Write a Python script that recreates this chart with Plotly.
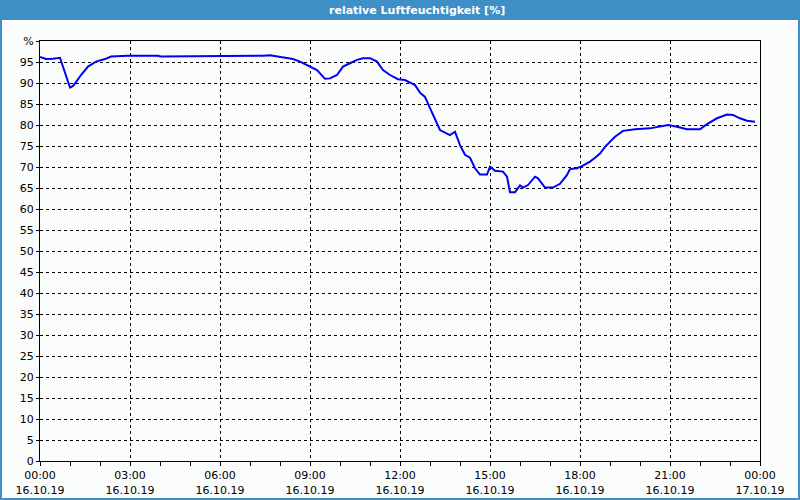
import plotly.graph_objects as go
import pandas as pd

# minutes since 16.10.19 00:00
minutes = [0, 12, 26, 40, 60, 66, 72, 82, 96, 112, 130, 142, 176, 236, 242, 336, 396, 420, 446, 460,
           490, 506, 520, 540, 554, 570, 580, 594, 606, 620, 634, 646, 660, 674, 686, 700, 716, 730,
           750, 760, 770, 780, 800, 810, 820, 830, 840, 850, 860, 870, 880, 894, 900, 910, 926, 934,
           940, 950, 960, 966, 976, 990, 996, 1010, 1026, 1040, 1054, 1060, 1074, 1084, 1100, 1110,
           1120, 1130, 1140, 1150, 1166, 1190, 1220, 1240, 1256, 1274, 1294, 1320, 1334, 1354, 1374,
           1386, 1400, 1414, 1430]
humidity = [96.2, 95.7, 95.8, 96.0, 88.9, 89.3, 90.2, 91.9, 93.9, 95.1, 95.7, 96.3, 96.5, 96.5, 96.3,
            96.4, 96.3, 96.4, 96.5, 96.6, 95.9, 95.7, 95.1, 94.0, 93.1, 91.0, 91.1, 91.9, 93.9, 94.7,
            95.5, 95.9, 95.9, 95.1, 93.1, 91.9, 90.9, 90.7, 89.5, 87.7, 86.7, 84.0, 78.8, 78.2, 77.6,
            78.4, 75.2, 72.9, 72.2, 69.7, 68.2, 68.2, 70.1, 69.1, 68.9, 67.7, 64.0, 64.0, 65.6, 65.1,
            65.7, 67.7, 67.3, 65.1, 65.1, 66.0, 68.1, 69.5, 69.7, 70.2, 71.3, 72.2, 73.2, 74.8, 76.0,
            77.2, 78.6, 79.0, 79.2, 79.6, 80.0, 79.6, 79.0, 79.0, 80.2, 81.6, 82.5, 82.4, 81.6, 81.0,
            80.8]

x_tick_hours = [0, 3, 6, 9, 12, 15, 18, 21, 24]
x_tick_text = ["00:00<br>16.10.19", "03:00<br>16.10.19", "06:00<br>16.10.19", "09:00<br>16.10.19",
               "12:00<br>16.10.19", "15:00<br>16.10.19", "18:00<br>16.10.19", "21:00<br>16.10.19",
               "00:00<br>17.10.19"]
y_tick_vals = list(range(0, 101, 5))
y_tick_text = [str(v) for v in range(0, 100, 5)] + ["%"]

title_text = "relative Luftfeuchtigkeit [%]"

start = pd.Timestamp("2019-10-16 00:00")
times = [start + pd.Timedelta(minutes=m) for m in minutes]
x_ticks = [start + pd.Timedelta(hours=h) for h in x_tick_hours]

W, H = 800, 500
L, R, T, B = 40, 40, 41, 39
pw, ph = W - L - R, H - T - B

def px(x):
    return (x - L) / pw

def py(y):
    return (H - B - y) / ph

blue = "#3d8fc6"
fnt = "DejaVu Sans"

fig = go.Figure()
fig.add_trace(go.Scatter(x=times, y=humidity, mode="lines",
                         line=dict(color="#0000f0", width=2), hoverinfo="skip"))

fig.update_layout(
    width=W, height=H,
    margin=dict(l=L, r=R, t=T, b=B),
    paper_bgcolor="#fbfdfc", plot_bgcolor="#fbfdfc",
    showlegend=False,
    font=dict(family=fnt, size=11, color="#000000"),
    xaxis=dict(
        range=[start, start + pd.Timedelta(hours=24)],
        tickvals=x_ticks, ticktext=x_tick_text,
        automargin=False,
        showgrid=True, gridcolor="#000000", gridwidth=1, griddash="3px,3px",
        showline=True, linecolor="#000000", linewidth=1, mirror=True,
        ticks="outside", ticklen=4, tickcolor="#000000",
        minor=dict(dtick=3600000, tick0=start, ticks="outside", ticklen=4,
                   tickcolor="#000000", showgrid=False),
        zeroline=False,
        tickfont=dict(family=fnt, size=11),
    ),
    yaxis=dict(
        range=[0, 100],
        tickvals=y_tick_vals, ticktext=y_tick_text,
        automargin=False,
        showgrid=True, gridcolor="#000000", gridwidth=1, griddash="3px,3px",
        showline=True, linecolor="#000000", linewidth=1, mirror=True,
        ticks="outside", ticklen=3, tickcolor="#000000",
        zeroline=False,
        tickfont=dict(family=fnt, size=11),
    ),
    shapes=[
        dict(type="rect", xref="paper", yref="paper",
             x0=px(0), x1=px(W), y0=py(20), y1=py(0),
             fillcolor=blue, line=dict(width=0), layer="below"),
        dict(type="rect", xref="paper", yref="paper",
             x0=px(1), x1=px(W - 1), y0=py(H - 1), y1=py(1),
             fillcolor="rgba(0,0,0,0)", line=dict(color=blue, width=2)),
    ],
    annotations=[
        dict(text="<b>" + title_text + "</b>", xref="paper", yref="paper",
             x=px(417), y=py(10), showarrow=False, xanchor="center", yanchor="middle",
             font=dict(family=fnt, size=11, color="#ffffff")),
    ],
)

fig.write_html("out.html")
